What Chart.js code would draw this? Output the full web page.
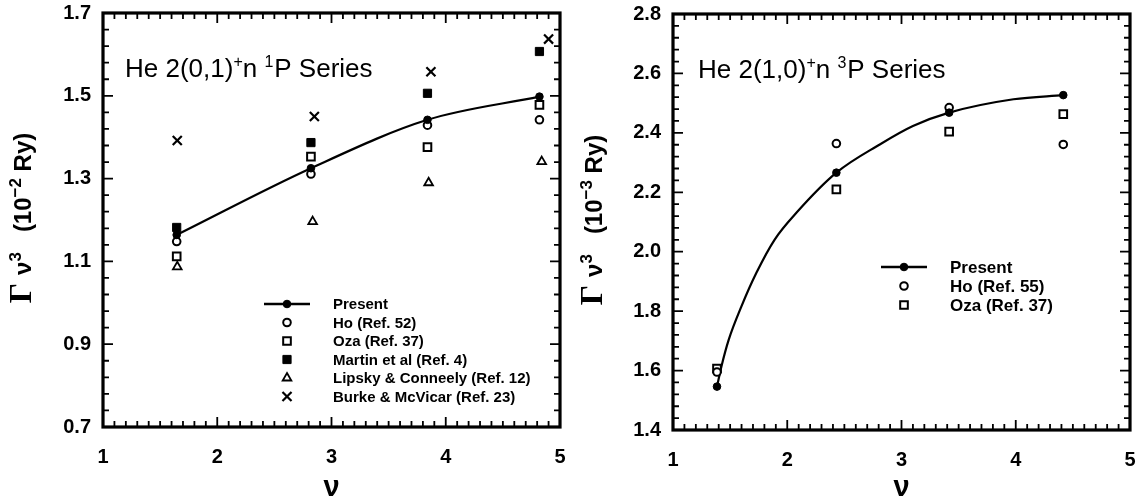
<!DOCTYPE html>
<html><head><meta charset="utf-8">
<script src="https://cdn.jsdelivr.net/npm/chart.js@4.4.1/dist/chart.umd.min.js"></script>
<style>
html,body{margin:0;padding:0;background:#fff;}
#wrap{position:relative;width:1143px;height:501px;background:#fff;}
#c1{position:absolute;left:0;top:0;}
#c2{position:absolute;left:570px;top:0;}
</style></head><body>
<div id="wrap"><canvas id="c1" width="570" height="501"></canvas><canvas id="c2" width="573" height="501"></canvas></div>
<script>
// ---------- data ----------
// Left panel: He 2(0,1)+n 1P
const xTicks = [1, 2, 3, 4, 5];
const leftYTicks = [0.7, 0.9, 1.1, 1.3, 1.5, 1.7];
const rightYTicks = [1.4, 1.6, 1.8, 2.0, 2.2, 2.4, 2.6, 2.8];

const leftNu       = [1.645, 2.82, 3.84, 4.82];
const leftPresent  = [1.164, 1.325, 1.442, 1.498];
const leftHo       = [1.148, 1.311, 1.429, 1.442];
const leftOza      = [1.112, 1.353, 1.376, 1.478];
const leftMartin   = [1.182, 1.387, 1.506, 1.607];
const leftLipskyNu = [1.65, 2.835, 3.85, 4.84];
const leftLipsky   = [1.087, 1.196, 1.290, 1.341];
const leftBurkeNu  = [1.65, 2.85, 3.87, 4.90];
const leftBurke    = [1.392, 1.450, 1.558, 1.637];
const leftLabels = ['Present', 'Ho (Ref. 52)', 'Oza (Ref. 37)', 'Martin et al (Ref. 4)', 'Lipsky & Conneely (Ref. 12)', 'Burke & McVicar (Ref. 23)'];

// Right panel: He 2(1,0)+n 3P
const rightNu      = [1.385, 2.43, 3.417, 4.416];
const rightPresent = [1.546, 2.266, 2.468, 2.527];
const rightHo      = [1.595, 2.364, 2.485, 2.361];
const rightOza     = [1.607, 2.210, 2.404, 2.463];
// the drawn "Present" curve
const rightCurveNu = [1.385, 1.424, 1.488, 1.599, 1.73, 1.89, 2.08, 2.43, 2.81, 3.10, 3.417, 3.98, 4.416];
const rightCurve   = [1.546, 1.614, 1.704, 1.816, 1.929, 2.041, 2.131, 2.266, 2.361, 2.423, 2.468, 2.513, 2.527];
const rightLabels = ['Present', 'Ho (Ref. 55)', 'Oza (Ref. 37)'];

// ---------- helpers ----------
const SANS = '"Liberation Sans", Arial, Helvetica, sans-serif';
const SERIF = '"Liberation Serif", "Times New Roman", serif';
function pts(xs, ys){ return ys.map((y,i)=>({x:xs[i], y:y})); }

const STY = {
  present:{pointStyle:'circle', radius:3.8, borderWidth:1, fill:'#000'},
  ho:{pointStyle:'circle', radius:3.8, borderWidth:2, fill:'#fff'},
  oza:{pointStyle:'rect', radius:5.4, borderWidth:2, fill:'#fff'},
  martin:{pointStyle:'rect', radius:5.8, borderWidth:1, fill:'#000'},
  lipsky:{pointStyle:'triangle', radius:5, borderWidth:1.8, fill:'#fff'},
  burke:{pointStyle:'crossRot', radius:6.4, borderWidth:2.2, fill:'#000'}
};
function ds(label, data, s, extra){
  return Object.assign({label, data, pointStyle:s.pointStyle, pointRadius:s.radius,
    pointBorderWidth:s.borderWidth, pointBackgroundColor:s.fill, pointBorderColor:'#000',
    borderColor:'#000', showLine:false, pointHoverRadius:s.radius}, extra||{});
}

function drawMarker(ctx, s, x, y){
  ctx.save();
  ctx.fillStyle = s.fill; ctx.strokeStyle = '#000'; ctx.lineWidth = s.borderWidth;
  if (Chart.helpers && Chart.helpers.drawPoint) {
    Chart.helpers.drawPoint(ctx, {pointStyle:s.pointStyle, rotation:0, radius:s.radius, borderWidth:s.borderWidth}, x, y);
  } else {
    ctx.beginPath(); ctx.arc(x,y,s.radius,0,Math.PI*2); ctx.fill(); ctx.stroke();
  }
  ctx.restore();
}

function drawSegs(ctx, segs, x, y){
  let cx = x;
  segs.forEach(s=>{
    ctx.font = s.f; ctx.fillText(s.t, cx, y + (s.dy||0));
    cx += ctx.measureText(s.t).width + (s.gap||0);
  });
  return cx - x;
}
function segsWidth(ctx, segs){
  let w=0; segs.forEach(s=>{ctx.font=s.f; w+=ctx.measureText(s.t).width+(s.gap||0);}); return w;
}

function makeDeco(cfg){
  return {
    id:'deco',
    afterDraw(chart){
      const ctx = chart.ctx, a = chart.chartArea, xs = chart.scales.x, ys = chart.scales.y;
      ctx.save();
      ctx.strokeStyle = '#000'; ctx.fillStyle = '#000'; ctx.lineCap = 'butt';
      // ticks on all four sides, pointing inward
      ctx.lineWidth = 1.8;
      const nx = Math.round((xs.max - xs.min)/cfg.xMinor), kx = Math.round(cfg.xMajor/cfg.xMinor);
      for (let i=0;i<=nx;i++){
        const px = xs.getPixelForValue(xs.min + i*cfg.xMinor);
        const L = (i%kx===0) ? 10 : 6;
        ctx.beginPath();
        ctx.moveTo(px, a.bottom); ctx.lineTo(px, a.bottom - L);
        ctx.moveTo(px, a.top); ctx.lineTo(px, a.top + L);
        ctx.stroke();
      }
      const ny = Math.round((ys.max - ys.min)/cfg.yMinor), ky = Math.round(cfg.yMajor/cfg.yMinor);
      for (let i=0;i<=ny;i++){
        const py = ys.getPixelForValue(ys.min + i*cfg.yMinor);
        const L = (i%ky===0) ? 10 : 6;
        ctx.beginPath();
        ctx.moveTo(a.left, py); ctx.lineTo(a.left + L, py);
        ctx.moveTo(a.right, py); ctx.lineTo(a.right - L, py);
        ctx.stroke();
      }
      // frame
      ctx.lineWidth = 3.2;
      ctx.strokeRect(a.left, a.top, a.right - a.left, a.bottom - a.top);

      // series title
      ctx.textBaseline = 'alphabetic'; ctx.textAlign = 'left';
      drawSegs(ctx, cfg.title, cfg.titleX, cfg.titleY);

      // legend
      ctx.textBaseline = 'middle';
      cfg.legend.rows.forEach((r,i)=>{
        const y = cfg.legend.y0 + i*cfg.legend.dy;
        const sx = cfg.legend.symX;
        if (r.line){
          ctx.lineWidth = 2.4;
          ctx.beginPath(); ctx.moveTo(sx - 23, y); ctx.lineTo(sx + 23, y); ctx.stroke();
        }
        drawMarker(ctx, r.s, sx, y);
        ctx.fillStyle = '#000';
        ctx.font = cfg.legend.font;
        ctx.fillText(r.label, cfg.legend.textX, y + 1);
      });

      // y-axis title (rotated)
      ctx.save();
      ctx.translate(cfg.yTitleX, cfg.yTitleY);
      ctx.rotate(-Math.PI/2);
      ctx.textBaseline = 'alphabetic';
      const w = segsWidth(ctx, cfg.yTitle);
      drawSegs(ctx, cfg.yTitle, -w/2, 9);
      ctx.restore();

      // x-axis title
      ctx.textAlign = 'center'; ctx.textBaseline = 'alphabetic';
      ctx.font = 'bold 29px ' + SANS;
      ctx.fillText('\u03BD', (a.left + a.right)/2, 496);
      ctx.restore();
    }
  };
}

function baseOptions(o){
  const tickFont = {family: SANS, size: 20, weight: 'bold'};
  return {
    responsive:false, animation:false, devicePixelRatio:1,
    layout:{padding:{left:o.padL, right:o.padR, top:o.padT, bottom:0}},
    plugins:{legend:{display:false}, tooltip:{enabled:false}},
    scales:{
      x:{type:'linear', min:1, max:5,
        grid:{display:false, drawTicks:false}, border:{display:false},
        afterBuildTicks:(s)=>{ s.ticks = xTicks.map(v=>({value:v})); },
        afterFit:(s)=>{ s.height = o.xH; s.paddingLeft = 0; s.paddingRight = 0; s.paddingTop = 0; s.paddingBottom = 0; },
        ticks:{font:tickFont, color:'#000', padding:18, maxRotation:0, callback:(v)=>String(v)}},
      y:{type:'linear', min:o.yTicks[0], max:o.yTicks[o.yTicks.length-1],
        grid:{display:false, drawTicks:false}, border:{display:false},
        afterBuildTicks:(s)=>{ s.ticks = o.yTicks.map(v=>({value:v})); },
        afterFit:(s)=>{ s.width = 50; s.paddingLeft = 0; s.paddingRight = 0; s.paddingTop = 0; s.paddingBottom = 0; },
        ticks:{font:tickFont, color:'#000', padding:12, callback:(v)=>Number(v).toFixed(1)}}
    }
  };
}

const big = '26px ' + SANS, sup = '16px ' + SANS;
function seriesTitle(a, b){
  return [{t:'He 2(' + a + ')', f:big}, {t:'+', f:sup, dy:-10}, {t:'n ', f:big}, {t:b, f:sup, dy:-10, gap:1}, {t:'P Series', f:big}];
}
function yTitle(exp){
  const m = 'bold 24px ' + SANS, s = 'bold 17px ' + SANS;
  return [{t:'\u0393', f:'bold 32px ' + SERIF, gap:8}, {t:'\u03BD', f:m}, {t:'3', f:s, dy:-10}, {t:'   (10', f:m},
          {t:'\u2212' + exp, f:s, dy:-10}, {t:' Ry)', f:m}];
}

// ---------- left chart ----------
new Chart(document.getElementById('c1'), {
  type:'scatter',
  data:{datasets:[
    ds(leftLabels[0], pts(leftNu, leftPresent), STY.present, {showLine:true, borderWidth:2.2, cubicInterpolationMode:'monotone'}),
    ds(leftLabels[1], pts(leftNu, leftHo), STY.ho),
    ds(leftLabels[2], pts(leftNu, leftOza), STY.oza),
    ds(leftLabels[3], pts(leftNu, leftMartin), STY.martin),
    ds(leftLabels[4], pts(leftLipskyNu, leftLipsky), STY.lipsky),
    ds(leftLabels[5], pts(leftBurkeNu, leftBurke), STY.burke)
  ]},
  options: baseOptions({padL:53, padR:10, padT:13, xH:74, yTicks:leftYTicks}),
  plugins:[makeDeco({
    xMinor:0.1, xMajor:1, yMinor:0.04, yMajor:0.2,
    title: seriesTitle('0,1', '1'), titleX:125, titleY:77,
    legend:{symX:287, textX:333, y0:304, dy:18.5, font:'bold 15px ' + SANS, rows:[
      {label:leftLabels[0], s:STY.present, line:true},
      {label:leftLabels[1], s:STY.ho},
      {label:leftLabels[2], s:STY.oza},
      {label:leftLabels[3], s:STY.martin},
      {label:leftLabels[4], s:STY.lipsky},
      {label:leftLabels[5], s:STY.burke}]},
    yTitle: yTitle('2'), yTitleX:22, yTitleY:218
  })]
});

// ---------- right chart ----------
new Chart(document.getElementById('c2'), {
  type:'scatter',
  data:{datasets:[
    ds(rightLabels[0], pts(rightNu, rightPresent), STY.present),
    ds(rightLabels[1], pts(rightNu, rightHo), STY.ho),
    ds(rightLabels[2], pts(rightNu, rightOza), STY.oza),
    ds('curve', pts(rightCurveNu, rightCurve), STY.present, {showLine:true, pointRadius:0, pointHoverRadius:0, borderWidth:2.2, cubicInterpolationMode:'monotone'})
  ]},
  options: baseOptions({padL:53, padR:13, padT:14, xH:71, yTicks:rightYTicks}),
  plugins:[makeDeco({
    xMinor:0.1, xMajor:1, yMinor:0.04, yMajor:0.2,
    title: seriesTitle('1,0', '3'), titleX:128, titleY:78,
    legend:{symX:334, textX:380, y0:267, dy:19, font:'bold 17px ' + SANS, rows:[
      {label:rightLabels[0], s:STY.present, line:true},
      {label:rightLabels[1], s:STY.ho},
      {label:rightLabels[2], s:STY.oza}]},
    yTitle: yTitle('3'), yTitleX:23, yTitleY:220
  })]
});
</script>
</body></html>
